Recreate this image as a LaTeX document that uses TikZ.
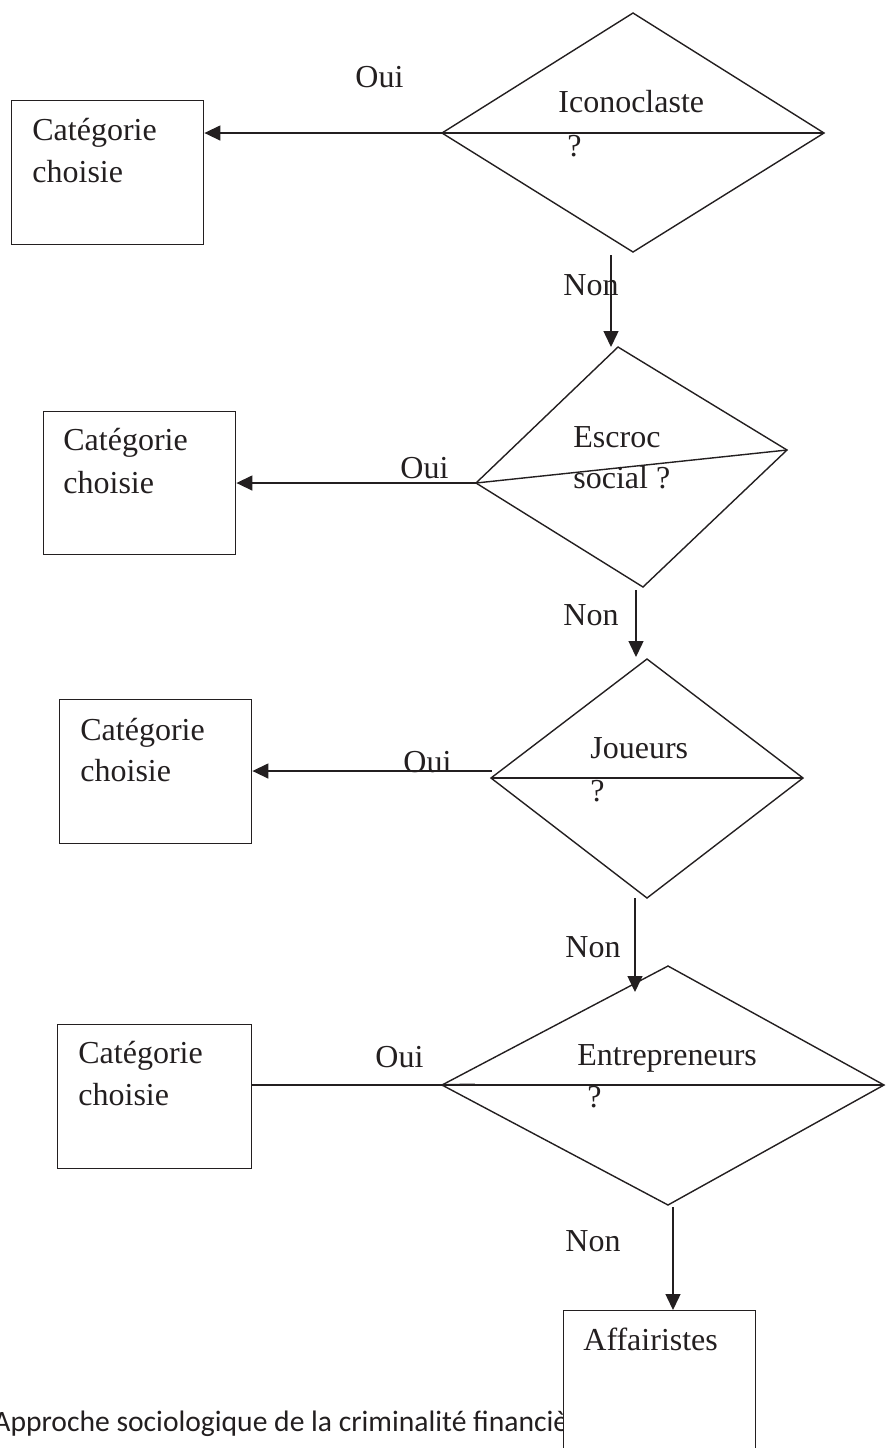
\documentclass[tikz,border=0pt]{standalone}
\usepackage{fontspec}
\setmainfont{Liberation Serif}
\newfontfamily\labelfont{Liberation Serif}
\newfontfamily\footfont{Carlito}
\usetikzlibrary{arrows.meta}
\definecolor{ink}{HTML}{231F20}
\tikzset{
  line/.style={draw=ink, line width=0.7pt},
  heavy/.style={draw=ink, line width=1pt},
  arr/.style={line, -{Triangle[length=8pt,width=7.5pt]}},
  txt/.style={anchor=base west, inner sep=0pt, text=ink, font=\labelfont\fontsize{16}{19}\selectfont},
  catbox/.style={line, fill=white, rectangle, anchor=north west, inner sep=0pt},
}
\begin{document}
\begin{tikzpicture}[x=0.5pt,y=-0.5pt]
\useasboundingbox (0,0) rectangle (885,1448);

% footer line of the page, partly hidden by the last box
\node[anchor=base west, inner sep=0pt, text=ink, font=\footfont\fontsize{14.8}{17}\selectfont] (foot) at (-7,1431) {Approche sociologique de la criminalité financière};

% ---------- question 1 ----------
\coordinate (d1t) at (633,13);
\coordinate (d1l) at (442,133);
\coordinate (d1r) at (824,133);
\coordinate (d1b) at (633,252);
\draw[line] (d1t) -- (d1r) -- (d1b) -- (d1l) -- cycle;
\draw[line] (d1l) -- (d1r);
\node[txt] (q1a) at (558,112) {Iconoclaste};
\node[txt] (q1b) at (567,156) {?};

\node[catbox, minimum width=96pt, minimum height=72pt] (b1) at (11,100) {};
\node[txt] (b1a) at (32,140) {Catégorie};
\node[txt] (b1b) at (32,182) {choisie};
\draw[arr] (d1l) -- (d1l -| b1.east);
\node[txt] (o1) at (355,87) {Oui};

% ---------- question 2 ----------
\coordinate (d2t) at (618,347);
\coordinate (d2l) at (476,483);
\coordinate (d2r) at (787,450);
\coordinate (d2b) at (643,587);
\draw[line] (d2t) -- (d2r) -- (d2b) -- (d2l) -- cycle;
\draw[line] (d2l) -- (d2r);
\node[txt] (q2a) at (573,447) {Escroc};
\node[txt] (q2b) at (573,488) {social ?};

\coordinate (n1s) at (611,255);
\draw[arr] (n1s) -- (n1s |- d2t);
\node[txt] (no1) at (563,295) {Non};

\node[catbox, minimum width=96pt, minimum height=71.5pt] (b2) at (43,411) {};
\node[txt] (b2a) at (63,450) {Catégorie};
\node[txt] (b2b) at (63,493) {choisie};
\draw[arr] (d2l) -- (d2l -| b2.east);
\node[txt] (o2) at (400,478) {Oui};

% ---------- question 3 ----------
\coordinate (d3t) at (647,659);
\coordinate (d3l) at (491,778);
\coordinate (d3r) at (803,778);
\coordinate (d3b) at (647,898);
\draw[line] (d3t) -- (d3r) -- (d3b) -- (d3l) -- cycle;
\draw[heavy] (d3l) -- (d3r);
\node[txt] (q3a) at (590,758) {Joueurs};
\node[txt] (q3b) at (590,801) {?};

\coordinate (n2s) at (636,590);
\draw[arr] (n2s) -- (636,657);
\node[txt] (no2) at (563,625) {Non};

\node[catbox, minimum width=96pt, minimum height=72pt] (b3) at (59,699) {};
\node[txt] (b3a) at (80,740) {Catégorie};
\node[txt] (b3b) at (80,781) {choisie};
\node[txt] (o3) at (403,772) {Oui};
\coordinate (y3) at (492,771);
\draw[arr] (y3) -- (y3 -| b3.east);

% ---------- question 4 ----------
\coordinate (d4t) at (668,966);
\coordinate (d4l) at (442,1085);
\coordinate (d4r) at (884,1085);
\coordinate (d4b) at (668,1205);
\draw[line] (d4t) -- (d4r) -- (d4b) -- (d4l) -- cycle;
\draw[line] (d4l) -- (d4r);
\draw[heavy] (d4l) -- (475,1084.5);
\node[txt] (q4a) at (577,1065) {Entrepreneurs};
\node[txt] (q4b) at (587,1107) {?};

\coordinate (n3s) at (635,898);
\draw[arr] (n3s) -- (635,992);
\node[txt] (no3) at (565,957) {Non};

\node[catbox, minimum width=97pt, minimum height=72pt] (b4) at (57,1024) {};
\node[txt] (b4a) at (78,1063) {Catégorie};
\node[txt] (b4b) at (78,1105) {choisie};
\draw[line] (d4l) -- (d4l -| b4.east);
\node[txt] (o4) at (375,1067) {Oui};

% ---------- final outcome ----------
\node[catbox, minimum width=96pt, minimum height=80pt] (b5) at (563,1310) {};
\node[txt] (b5a) at (583,1350) {Affairistes};
\coordinate (n4s) at (673,1207);
\draw[arr] (n4s) -- (n4s |- b5.north);
\node[txt] (no4) at (565,1251) {Non};
\end{tikzpicture}
\end{document}
